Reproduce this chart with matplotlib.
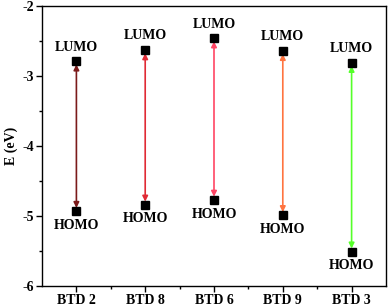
import numpy as np
import matplotlib.pyplot as plt
from matplotlib.ticker import MultipleLocator, FixedLocator

# 数据
molecules = ['BTD 2', 'BTD 8', 'BTD 6', 'BTD 9', 'BTD 3']
lumo = [-2.79, -2.63, -2.46, -2.64, -2.81]
homo = [-4.93, -4.84, -4.77, -4.99, -5.51]
arrow_colors = ['#7B1A1A', '#E02A35', '#FF4564', '#FF7440', '#55FF2A']

plt.rcParams['font.family'] = ['Liberation Serif', 'DejaVu Serif']
plt.rcParams['font.weight'] = 'bold'

fig = plt.figure(figsize=(3.88, 3.08), dpi=100)
ax = fig.add_axes([42 / 388, 22 / 308, 344 / 388, 280 / 308])

x = np.arange(1, len(molecules) + 1)
gap = 0.045  # 箭头停在方块边缘

# 双向箭头
for xi, lo, hi, c in zip(x, homo, lumo, arrow_colors):
    ax.annotate('', xy=(xi, hi - gap), xytext=(xi, lo + gap),
                arrowprops=dict(arrowstyle='<|-|>', color=c, lw=1.2,
                                mutation_scale=8, shrinkA=0, shrinkB=0))

ax.plot(x, lumo, 's', color='black', markersize=5.8, zorder=5)
ax.plot(x, homo, 's', color='black', markersize=5.8, zorder=5)

for xi, v in zip(x, lumo):
    ax.text(xi, v + 0.11, 'LUMO', ha='center', va='bottom', fontsize=10, fontweight='bold')
for xi, v in zip(x, homo):
    ax.text(xi, v - 0.11, 'HOMO', ha='center', va='top', fontsize=10, fontweight='bold')

ax.set_xlim(0.5, 5.5)
ax.set_ylim(-6, -2)
ax.set_xticks(x)
ax.set_xticklabels(molecules, fontsize=10, fontweight='bold')
ax.xaxis.set_minor_locator(FixedLocator(np.arange(1.5, 5.5, 1)))
ax.yaxis.set_minor_locator(MultipleLocator(0.5))
ax.set_yticks([-6, -5, -4, -3, -2])
ax.set_yticklabels(['-6', '-5', '-4', '-3', '-2'], fontsize=10, fontweight='bold')
ax.set_ylabel('E (eV)', fontsize=10, fontweight='bold', labelpad=3)

ax.tick_params(which='major', direction='out', length=4, width=1, top=False, right=False, pad=2)
ax.tick_params(which='minor', direction='out', length=2.5, width=1, top=False, right=False)
for s in ax.spines.values():
    s.set_linewidth(1.0)

fig.savefig('out.png', dpi=100)
